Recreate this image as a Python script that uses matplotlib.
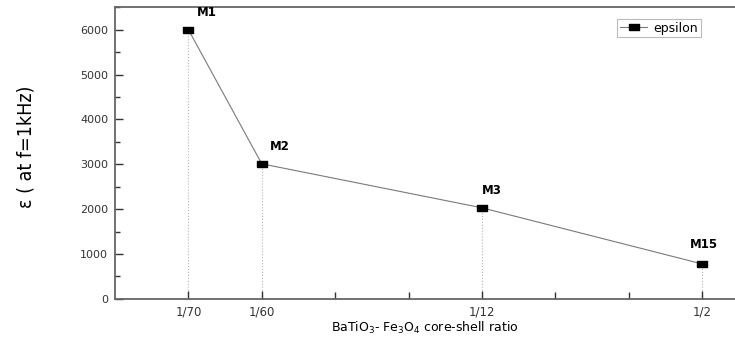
import matplotlib
matplotlib.use("Agg")
import matplotlib.pyplot as plt
from matplotlib.ticker import FixedLocator, MultipleLocator

# core-shell ratio samples (evenly spaced category positions)
x_pos = [1, 2, 5, 8]
x_labels = ["1/70", "1/60", "1/12", "1/2"]
sample_names = ["M1", "M2", "M3", "M15"]
epsilon = [6000, 3010, 2030, 780]

plt.rcParams["font.family"] = ["DejaVu Sans"]

fig = plt.figure(figsize=(7.35, 3.42), dpi=100)
ax = fig.add_axes([0.1565, 0.126, 0.8435, 0.853])

# dotted drop lines from each point to the axis
ax.vlines(x_pos, 0, epsilon, colors="#b5b5b5", linestyles=":", lw=0.8, zorder=1)

box = [(-1, -0.6), (1, -0.6), (1, 0.6), (-1, 0.6), (-1, -0.6)]
ax.plot(x_pos, epsilon, color="#7a7a7a", lw=0.8, marker=box, ms=7.5,
        mfc="black", mec="black", label="epsilon", zorder=3)

offsets = [(6, 8), (6, 8), (0, 8), (-9, 9)]
for xi, yi, name, off in zip(x_pos, epsilon, sample_names, offsets):
    ax.annotate(name, (xi, yi), xytext=off, textcoords="offset points",
                fontsize=8.5, fontweight="bold", ha="left", va="bottom")

ax.set_xlim(0, 8.45)
ax.set_ylim(0, 6500)
ax.xaxis.set_major_locator(FixedLocator(x_pos))
ax.set_xticklabels(x_labels)
ax.xaxis.set_minor_locator(FixedLocator([3, 4, 6, 7]))
ax.yaxis.set_major_locator(MultipleLocator(1000))
ax.yaxis.set_minor_locator(MultipleLocator(500))

ax.tick_params(which="both", direction="in", colors="#333333", width=1.0)
ax.tick_params(which="major", length=6, pad=5)
ax.tick_params(axis="y", which="major", labelsize=8)
ax.tick_params(axis="x", which="major", labelsize=8.5)
ax.tick_params(which="minor", length=3.5)
ax.tick_params(axis="x", which="minor", length=5)

for side in ("left", "bottom", "top"):
    ax.spines[side].set_color("#666666")
    ax.spines[side].set_linewidth(1.3)
ax.spines["right"].set_visible(False)

ax.set_xlabel(r"BaTiO$_3$- Fe$_3$O$_4$ core-shell ratio", fontsize=9, labelpad=1)
fig.text(0.036, 0.57, "ε ( at f=1kHz)", rotation=90, fontsize=14,
         fontstretch="condensed", ha="center", va="center")

leg = ax.legend(loc="upper right", bbox_to_anchor=(0.955, 0.98), fontsize=9,
                frameon=True, fancybox=False, handlelength=2.2, borderpad=0.2,
                handletextpad=0.5)
leg.get_frame().set_edgecolor("#aaaaaa")
leg.get_frame().set_linewidth(0.8)

fig.savefig("out.png", dpi=100)
